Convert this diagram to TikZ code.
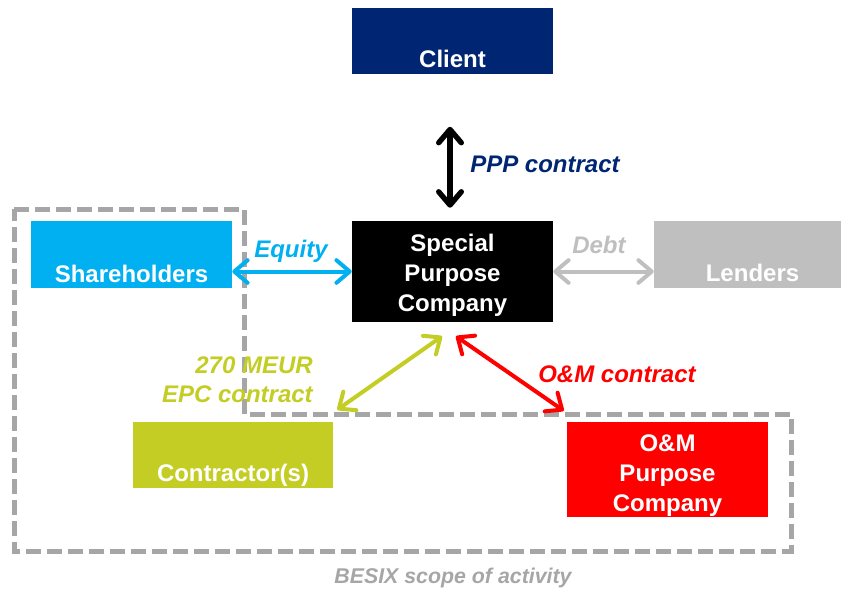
\documentclass[tikz,border=0pt]{standalone}
\usepackage{fontspec}
\setmainfont{Liberation Sans}
\usetikzlibrary{arrows.meta,calc}

\definecolor{clientblue}{HTML}{002673}
\definecolor{equitycyan}{HTML}{00B0F0}
\definecolor{lendergray}{HTML}{BFBFBF}
\definecolor{scopegray}{HTML}{A6A6A6}
\definecolor{epcolive}{HTML}{C3CD23}
\definecolor{omred}{HTML}{FF0000}

\tikzset{
  panel/.style={rectangle, inner sep=0pt, text=white,
    font=\fontsize{18}{22.5}\selectfont\bfseries},
  tag/.style={inner sep=0pt, font=\fontsize{18}{21.75}\selectfont\bfseries\itshape},
  link/.style={line width=3pt, <->},
  scopeline/.style={draw=scopegray, line width=3.75pt,
    dash pattern=on 11.25pt off 4.5pt},
}

\begin{document}
\begin{tikzpicture}[x=0.75pt, y=-0.75pt,
  >={Straight Barb[length=10pt, width=17pt, round]}]
\useasboundingbox (0,0) rectangle (841,590);
\clip (0,0) rectangle (841,590);

% parties
\node[panel, fill=clientblue, minimum width=150.75pt, minimum height=49.5pt,
      text height=45pt, text depth=4.5pt] (client) at (452.5,40.5) {Client};
\node[panel, fill=black, minimum width=150.75pt, minimum height=75.75pt,
      align=center, text height=63.8pt, text depth=3.8pt]
  (spc) at (452.5,271.5) {Special\\Purpose\\Company};
\node[panel, fill=equitycyan, minimum width=150.75pt, minimum height=50.25pt,
      text height=45.75pt, text depth=4.5pt] (share) at (131.5,254.5) {Shareholders};
\node[panel, fill=lendergray, minimum width=147.75pt, minimum height=50.25pt,
      text height=45pt, text depth=5.25pt] (lenders) at (752.5,254.5) {Lenders};
\node[panel, fill=epcolive, minimum width=150pt, minimum height=49.5pt,
      text height=44.25pt, text depth=5.25pt] (contractor) at (233,455) {Contractor(s)};
\node[panel, fill=omred, minimum width=150.75pt, minimum height=71.25pt,
      align=center, text height=67.1pt, text depth=3.8pt]
  (om) at (667.5,469.5) {O\&M\\Purpose\\Company};

% scope of activity outline
\draw[scopeline] (14,209) -- (244,209) -- (244,414) -- (791,414)
  -- (791,551) -- (14,551) -- cycle;
\node[inner sep=0pt, text=scopegray, anchor=base,
      font=\fontsize{16}{19}\selectfont\bfseries\itshape]
  (scope) at (453,583) {BESIX scope of activity};

% contractual links
\draw[link, draw=black, line width=4pt]
  ($(client.south)+(-2.5,53)$) -- ($(spc.north)+(-2.5,-13)$);
\draw[link, draw=equitycyan] (share.east |- spc.west) -- (spc.west);
\draw[link, draw=lendergray] (spc.east) -- (lenders.west |- spc.east);
\draw[link, draw=epcolive]
  ($(contractor.north east)+(4,-12)$) -- ($(spc.south)+(-10.5,14)$);
\draw[link, draw=omred]
  ($(spc.south)+(3.5,14)$) -- ($(om.north west)+(-3,-11)$);

% link labels
\node[tag, text=clientblue, anchor=base west] (ppp) at (470,172) {PPP contract};
\node[tag, text=equitycyan, anchor=base west] (equity) at (254,257) {Equity};
\node[tag, text=lendergray, anchor=base west] (debt) at (572,253) {Debt};
\node[tag, text=epcolive, anchor=base east, align=right] (epc) at (313,402)
  {270 MEUR\\EPC contract};
\node[tag, text=omred, anchor=base west] (omc) at (538,382) {O\&M contract};
\end{tikzpicture}
\end{document}
